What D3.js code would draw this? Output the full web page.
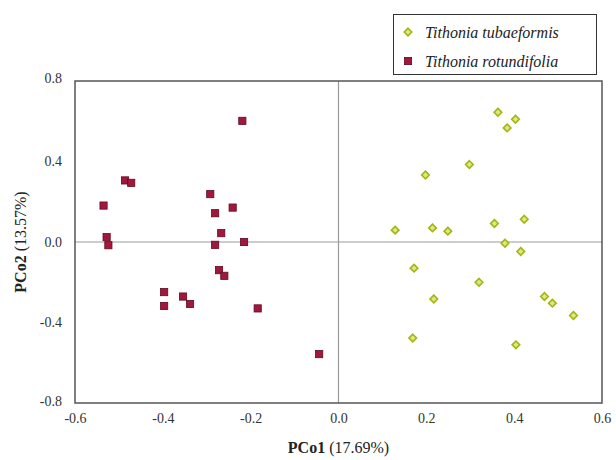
<!DOCTYPE html>
<html>
<head>
<meta charset="utf-8">
<script src="https://cdn.jsdelivr.net/npm/d3@7"></script>
<style>
  body { margin: 0; background: #fff; }
  svg text { font-family: "Liberation Serif", "DejaVu Serif", serif; fill: #222; }
</style>
</head>
<body>
<div class="chart"></div>
<script>
// Tithonia tubaeformis (green diamonds)
const tubX = [0.363, 0.403, 0.384, 0.298, 0.198, 0.129, 0.214, 0.249, 0.355, 0.423,
              0.379, 0.415, 0.172, 0.320, 0.217, 0.469, 0.487, 0.535, 0.169, 0.404];
const tubY = [0.645, 0.610, 0.567, 0.385, 0.333, 0.059, 0.070, 0.054, 0.092, 0.113,
              -0.006, -0.047, -0.130, -0.200, -0.283, -0.271, -0.304, -0.365, -0.477, -0.511];

// Tithonia rotundifolia (red squares)
const rotX = [-0.219, -0.486, -0.472, -0.535, -0.528, -0.524, -0.292, -0.241, -0.281, -0.267,
              -0.281, -0.215, -0.272, -0.260, -0.397, -0.397, -0.354, -0.338, -0.184, -0.044];
const rotY = [0.602, 0.306, 0.294, 0.181, 0.024, -0.016, 0.238, 0.171, 0.143, 0.044,
              -0.014, 0.000, -0.140, -0.168, -0.249, -0.318, -0.271, -0.308, -0.330, -0.557];

const xTicks = [-0.6, -0.4, -0.2, 0.0, 0.2, 0.4, 0.6];
const yTicks = [-0.8, -0.4, 0.0, 0.4, 0.8];

const series = [
  {name: "Tithonia tubaeformis", xs: tubX, ys: tubY, shape: "diamond"},
  {name: "Tithonia rotundifolia", xs: rotX, ys: rotY, shape: "square"}
];

const W = 616, H = 460;
let margin = {top: 81, right: 14, bottom: 57, left: 75};

let svg = d3.select(".chart").append("svg")
    .attr("width", W)
    .attr("height", H);

let x = d3.scaleLinear().domain([-0.6, 0.6]).range([margin.left, W - margin.right]);
let y = d3.scaleLinear().domain([-0.8, 0.8]).range([H - margin.bottom, margin.top]);

// zero lines
svg.append("line")
    .attr("x1", x(0)).attr("x2", x(0))
    .attr("y1", y(0.8)).attr("y2", y(-0.8))
    .attr("stroke", "#9a9a9a").attr("stroke-width", 1.2);
svg.append("line")
    .attr("x1", x(-0.6)).attr("x2", x(0.6))
    .attr("y1", y(0)).attr("y2", y(0))
    .attr("stroke", "#9a9a9a").attr("stroke-width", 1.2);

// frame
svg.append("rect")
    .attr("x", x(-0.6)).attr("y", y(0.8))
    .attr("width", x(0.6) - x(-0.6))
    .attr("height", y(-0.8) - y(0.8))
    .attr("fill", "none")
    .attr("stroke", "#555").attr("stroke-width", 1.5);

// axes (labels only)
let fmt = d => d3.format(".1f")(d).replace("−", "-");
let xAxis = svg.append("g")
    .attr("transform", "translate(0," + (y(-0.8) + 4) + ")")
    .call(d3.axisBottom(x).tickValues(xTicks).tickFormat(fmt).tickSize(0).tickPadding(6));
let yAxis = svg.append("g")
    .attr("transform", "translate(" + (x(-0.6) - 13) + ",0)")
    .call(d3.axisLeft(y).tickValues(yTicks).tickFormat(fmt).tickSize(0).tickPadding(0));
[xAxis, yAxis].forEach(g => {
    g.select(".domain").remove();
    g.selectAll("text")
        .style("font-family", "'Liberation Serif', serif")
        .style("font-size", "14px")
        .style("fill", "#333");
});
yAxis.selectAll(".tick").filter(d => d === -0.8).select("text").attr("dy", "0.2em");
yAxis.selectAll(".tick").filter(d => d === 0.8).select("text").attr("dy", "0.1em");

// axis titles
let xt = svg.append("text")
    .attr("x", x(0)).attr("y", 453)
    .attr("text-anchor", "middle")
    .attr("font-size", 16);
xt.append("tspan").attr("font-weight", "bold").text("PCo1");
xt.append("tspan").text(" (17.69%)");

let yt = svg.append("text")
    .attr("transform", "translate(26," + y(0) + ") rotate(-90)")
    .attr("text-anchor", "middle")
    .attr("font-size", 16);
yt.append("tspan").attr("font-weight", "bold").text("PCo2");
yt.append("tspan").text(" (13.57%)");

// markers
const drawMarker = (g, shape) => {
    if (shape === "square") {
        g.append("rect")
            .attr("x", -3.6).attr("y", -3.6).attr("width", 7.2).attr("height", 7.2)
            .attr("fill", "#a3173d").attr("stroke", "#5e0c22").attr("stroke-width", 0.8);
    } else {
        g.append("path")
            .attr("d", "M0,-3.8L3.8,0L0,3.8L-3.8,0Z")
            .attr("fill", "#dfe87a").attr("stroke", "#a2b515").attr("stroke-width", 1.6);
    }
};

series.forEach(s => {
    s.xs.forEach((v, i) => {
        let g = svg.append("g")
            .attr("transform", "translate(" + x(v) + "," + y(s.ys[i]) + ")");
        drawMarker(g, s.shape);
    });
});

// legend
let lg = svg.append("g");
lg.append("rect")
    .attr("x", 393.5).attr("y", 14.5).attr("width", 203).attr("height", 60)
    .attr("fill", "#fff").attr("stroke", "#333").attr("stroke-width", 1);
series.forEach((s, i) => {
    let g = lg.append("g").attr("transform", "translate(408," + (32 + i * 29) + ")");
    drawMarker(g, s.shape);
    lg.append("text")
        .attr("x", 425).attr("y", 32 + i * 29)
        .attr("dy", "0.35em")
        .attr("font-size", 16)
        .attr("font-style", "italic")
        .text(s.name);
});
</script>
</body>
</html>
